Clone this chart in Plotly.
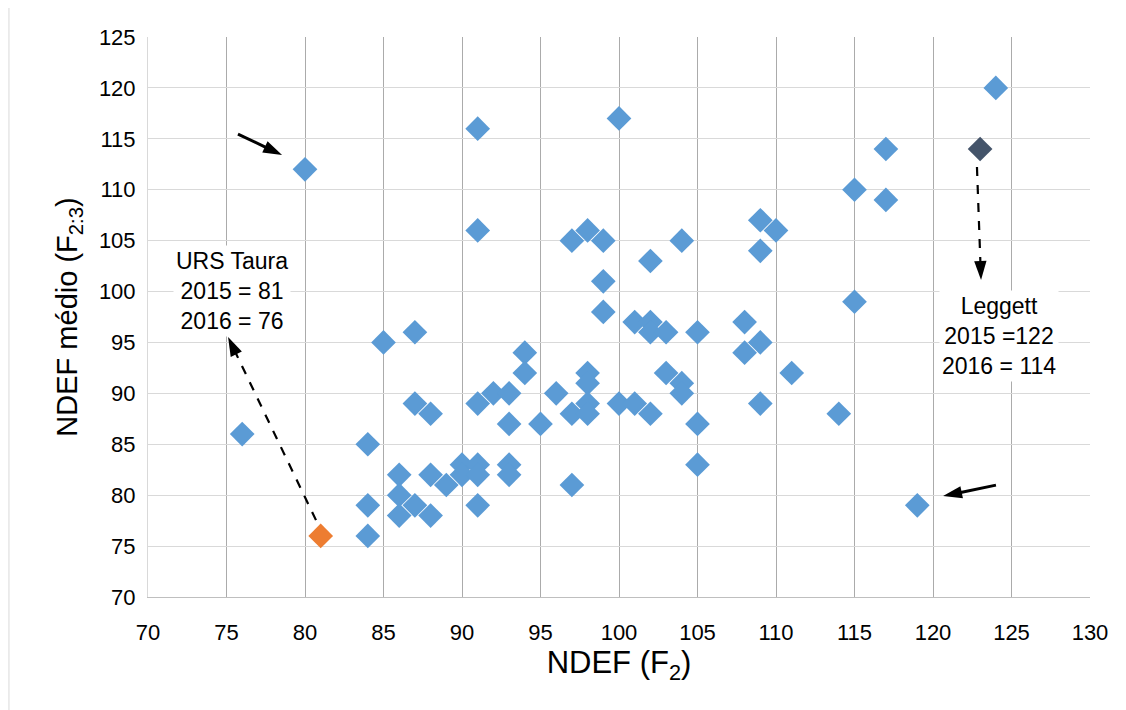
import plotly.graph_objects as go

# Blue series: NDEF (F2) vs NDEF médio (F2:3)
ndef_f2 = [76, 80, 84, 84, 84, 85, 86, 86, 86, 87, 87, 87, 88, 88, 88, 89, 90, 90,
           91, 91, 91, 91, 91, 91, 92, 93, 93, 93, 93, 94, 94, 95, 96, 97, 97, 97,
           98, 98, 98, 98, 98, 99, 99, 99, 100, 100, 101, 101, 102, 102, 102, 102,
           103, 103, 104, 104, 104, 105, 105, 105, 108, 108, 109, 109, 109, 109,
           110, 111, 114, 115, 115, 117, 117, 119, 124]
ndef_f23 = [86, 112, 85, 79, 76, 95, 82, 80, 78, 96, 89, 79, 88, 82, 78, 81, 83, 82,
            116, 106, 89, 83, 82, 79, 90, 90, 87, 83, 82, 94, 92, 87, 90, 105, 88, 81,
            106, 92, 91, 89, 88, 105, 101, 98, 117, 89, 97, 89, 103, 97, 96, 88,
            96, 92, 105, 91, 90, 96, 87, 83, 97, 94, 107, 104, 95, 89,
            106, 92, 88, 110, 99, 114, 109, 79, 120]

# Highlighted points
taura_x = [81]
taura_y = [76]
leggett_x = [123]
leggett_y = [114]

x_ticks = list(range(70, 131, 5))
y_ticks = list(range(70, 126, 5))

FONT = "Liberation Sans, Arial, sans-serif"

fig = go.Figure()
fig.add_trace(go.Scatter(x=ndef_f2, y=ndef_f23, mode="markers",
                         marker=dict(symbol="diamond", size=19, color="#5B9BD5",
                                     line=dict(width=0)),
                         showlegend=False, hoverinfo="x+y"))
fig.add_trace(go.Scatter(x=taura_x, y=taura_y, mode="markers",
                         marker=dict(symbol="diamond", size=19, color="#ED7D31",
                                     line=dict(width=0)),
                         showlegend=False))
fig.add_trace(go.Scatter(x=leggett_x, y=leggett_y, mode="markers",
                         marker=dict(symbol="diamond", size=19, color="#44546A",
                                     line=dict(width=0)),
                         showlegend=False))

# Arrows (tail -> head), drawn as line traces with an arrow marker at the head
arrows = [
    # (tail_x, tail_y, head_x, head_y, dash, width)
    (80.70, 77.55, 75.10, 95.53, "dash", 2.2),
    (122.80, 112.23, 123.06, 101.13, "dash", 2.2),
    (75.73, 115.47, 78.54, 113.41, "solid", 3),
    (124.01, 80.99, 120.64, 79.91, "solid", 3),
]
for tx, ty, hx, hy, dash, w in arrows:
    fig.add_trace(go.Scatter(
        x=[tx, hx], y=[ty, hy], mode="lines+markers",
        line=dict(color="black", width=w, dash=dash),
        marker=dict(symbol="arrow", size=[0, 20], color="black",
                    angleref="previous", opacity=[0, 1], line=dict(width=0)),
        showlegend=False, hoverinfo="skip"))

annotations = [
    dict(x=75.38, y=100.05, xref="x", yref="y", showarrow=False,
         text="URS Taura<br>2015 = 81<br>2016 = 76",
         font=dict(family=FONT, size=23, color="black"),
         bgcolor="white", borderpad=2, align="center"),
    dict(x=124.2, y=95.6, xref="x", yref="y", showarrow=False,
         text="Leggett<br>2015 =122<br>2016 = 114",
         font=dict(family=FONT, size=23, color="black"),
         bgcolor="white", borderpad=2, align="center"),
]

shapes = [
    # outer chart border (left/top visible in reference)
    dict(type="rect", xref="paper", yref="paper",
         x0=-0.1476, y0=-0.25, x1=1.06, y1=1.0536,
         line=dict(color="#d9d9d9", width=1), layer="below"),
]

fig.update_layout(
    width=1126, height=710,
    margin=dict(l=140, r=44, t=29, b=121),
    paper_bgcolor="white", plot_bgcolor="white",
    font=dict(family=FONT, color="black"),
    shapes=shapes, annotations=annotations,
    showlegend=False,
)
fig.update_xaxes(range=[70, 130], tickvals=x_ticks, ticktext=[str(v) for v in x_ticks],
                 showgrid=True, gridcolor="#ababab", gridwidth=1,
                 showline=True, linecolor="#bfbfbf", linewidth=1,
                 zeroline=False, ticks="", tickfont=dict(size=22),
                 ticklabelstandoff=16,
                 title=dict(text="NDEF (F<sub>2</sub>)", font=dict(size=31), standoff=6))
fig.update_yaxes(range=[70, 125], tickvals=y_ticks, ticktext=[str(v) for v in y_ticks],
                 showgrid=True, gridcolor="#d9d9d9", gridwidth=1,
                 showline=True, linecolor="#d9d9d9", linewidth=1,
                 zeroline=False, ticks="", tickfont=dict(size=22),
                 ticklabelstandoff=7,
                 title=dict(text="NDEF médio (F<sub>2:3</sub>)", font=dict(size=29), standoff=12))

fig.write_html("out.html")
